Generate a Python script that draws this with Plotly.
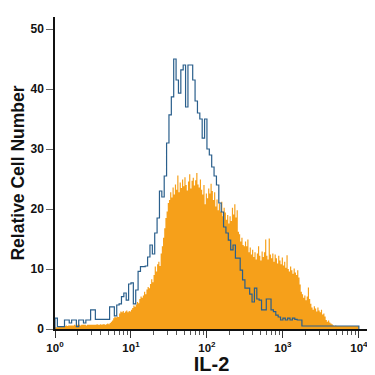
import plotly.graph_objects as go

# Orange (IL-2 stained) histogram: 256 channels over 4 decades (64 per decade)
orange_counts = [
    0.3,0.3,0.3,0.4,0.4,0.5,0.5,0.5,0.5,0.6,0.5,0.6,0.6,0.6,0.6,0.6,
    0.7,0.6,0.7,0.7,0.7,0.6,0.7,0.7,0.7,0.7,0.6,0.7,0.7,0.7,0.7,0.7,
    0.7,0.7,0.7,0.8,0.7,0.7,0.8,0.7,0.8,0.8,0.7,0.8,0.9,0.8,1.0,1.2,
    1.4,1.8,2.0,1.9,2.1,2.0,2.6,2.9,2.8,3.0,2.7,2.9,3.1,2.8,3.0,2.9,
    3.2,3.5,3.9,3.7,4.1,4.5,4.3,5.0,5.4,5.2,5.6,6.2,5.8,6.6,7.0,6.8,
    7.5,8.3,7.8,9.0,10.4,9.6,10.8,11.2,10.5,12.6,13.8,15.2,16.8,18.5,19.6,21.0,
    21.5,22.8,21.9,23.6,22.4,24.1,23.2,25.6,22.8,24.4,23.5,24.9,23.8,25.3,24.0,23.1,
    24.6,25.8,23.4,24.7,25.2,23.9,24.8,26.0,24.1,23.6,24.9,23.2,22.4,24.0,20.8,22.6,
    21.8,23.4,22.6,24.2,23.0,21.5,22.8,20.4,21.6,19.8,20.9,19.6,21.2,18.8,20.2,19.4,
    18.2,19.0,17.6,18.8,18.0,20.2,19.1,20.8,18.6,19.8,16.2,15.8,14.6,15.2,14.0,13.8,
    14.6,13.8,14.9,12.8,13.6,12.4,13.2,12.0,12.8,11.6,12.6,13.8,12.2,11.4,12.9,12.0,
    12.8,14.9,12.2,11.6,15.1,12.4,11.8,12.6,11.2,12.4,11.8,10.9,12.2,11.4,10.8,11.9,
    10.6,11.2,10.2,12.3,10.0,9.6,10.4,9.8,9.2,10.1,9.4,9.0,9.8,8.6,7.4,6.2,
    5.8,5.2,5.6,4.8,5.4,6.9,5.0,4.2,3.6,3.2,3.8,3.4,2.9,3.6,3.1,2.8,
    3.2,2.4,2.6,2.1,1.5,1.2,1.4,1.1,0.9,0.8,0.6,0.5,0.6,0.5,0.5,0.5,
    0.5,0.5,0.5,0.5,0.5,0.5,0.5,0.5,0.5,0.5,0.5,0.5,0.5,0.5,0.5,0.5,
]

# Blue (isotype control) histogram: 128 channels over 4 decades (32 per decade)
blue_counts = [
    1.8,0.4,0.4,0.4,1.5,1.5,1.0,1.5,
    1.5,0.4,1.5,1.5,1.0,1.5,1.5,3.2,
    3.2,1.6,1.6,1.6,1.6,1.6,1.6,3.7,
    3.7,2.2,4.0,4.2,5.4,6.0,4.8,7.5,
    7.7,4.2,6.5,9.6,10.4,10.4,10.5,12.0,
    14.0,12.5,16.0,18.5,23.0,22.0,25.5,31.0,
    35.7,38.7,45.0,41.5,39.3,43.2,44.0,37.0,
    44.0,44.0,41.5,38.0,36.0,35.0,31.8,35.0,
    30.0,29.0,27.0,25.5,24.0,21.0,19.5,17.0,
    16.0,14.8,13.2,14.0,11.8,11.8,9.8,8.2,
    6.8,6.8,5.8,4.5,6.8,5.0,4.8,3.2,
    3.2,5.0,5.0,3.2,2.9,2.3,2.0,1.5,
    1.8,1.5,1.8,1.5,1.8,1.6,1.5,1.5,
    0.5,0.5,0.5,0.5,0.5,0.5,0.5,0.5,
    0.5,0.5,0.5,0.5,0.5,0.5,0.5,0.5,
    0.5,0.5,0.5,0.5,0.5,0.5,0.5,0.5,
]

x_tick_vals = [1, 10, 100, 1000, 10000]
x_tick_text = ["<b>10<sup>0</sup></b>", "<b>10<sup>1</sup></b>", "<b>10<sup>2</sup></b>",
               "<b>10<sup>3</sup></b>", "<b>10<sup>4</sup></b>"]
y_tick_vals = [0, 10, 20, 30, 40, 50]
x_title = "<b>IL-2</b>"
y_title = "<b>Relative Cell Number</b>"


def step_xy(counts, decades=4.0):
    n = len(counts)
    edges = [10 ** (decades * i / n) for i in range(n + 1)]
    xs = [edges[0]] + edges
    ys = [0] + list(counts) + [0]
    xs = xs + [edges[-1]]
    return xs, ys


ox, oy = step_xy(orange_counts)
bx, by = step_xy(blue_counts)

fig = go.Figure()
fig.add_trace(go.Scatter(
    x=ox, y=oy, mode="lines", line=dict(shape="hv", width=0, color="#F6A01A"),
    fill="tozeroy", fillcolor="#F6A01A", hoverinfo="skip", showlegend=False))
fig.add_trace(go.Scatter(
    x=bx, y=by, mode="lines", line=dict(shape="hv", width=1.2, color="#2A5F8C"),
    hoverinfo="skip", showlegend=False))

minor_vals = [m * 10 ** d for d in range(4) for m in range(2, 10)]

# The page body has an 8px margin, so the figure is drawn 8px in from the top-left.
fig.update_layout(
    width=367, height=367,
    margin=dict(l=47, r=7, t=9, b=46),
    paper_bgcolor="white", plot_bgcolor="white",
    font=dict(family="Liberation Sans, Arial, sans-serif", color="#111"),
    xaxis=dict(
        type="log", range=[0, 4.12], automargin=False,
        tickvals=x_tick_vals, ticktext=x_tick_text,
        ticks="outside", ticklen=7, tickwidth=1, tickcolor="#333",
        minor=dict(tickvals=minor_vals, ticks="outside", ticklen=4, tickcolor="#555", tickwidth=1),
        showline=True, linecolor="#111", linewidth=1.5,
        showgrid=False, zeroline=False,
        tickfont=dict(size=11.5, color="#111"),
        title=dict(text=x_title, font=dict(size=20, color="#111"), standoff=4),
    ),
    yaxis=dict(
        range=[0, 52], automargin=False,
        tickvals=y_tick_vals, ticktext=["<b>%d</b>" % v for v in y_tick_vals],
        ticks="outside", ticklen=7, tickwidth=1, tickcolor="#666",
        showline=True, linecolor="#111", linewidth=1.5,
        showgrid=False, zeroline=False,
        tickfont=dict(size=12, color="#111"),
        title=dict(text=y_title, font=dict(size=17.5, color="#111"), standoff=6),
    ),
)

fig.write_html("out.html")
